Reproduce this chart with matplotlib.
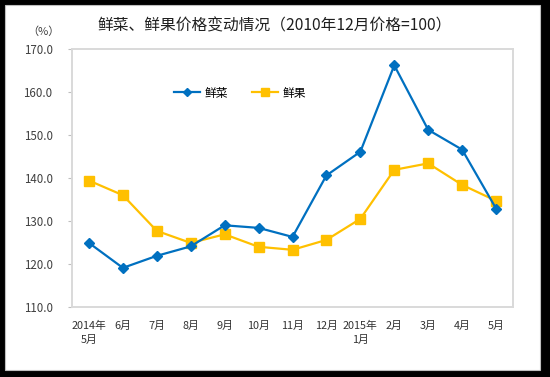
import matplotlib.pyplot as plt
from matplotlib.patches import Rectangle

plt.rcParams['font.family'] = ['Noto Sans CJK SC', 'DejaVu Sans']

months = ["2014年\n5月", "6月", "7月", "8月", "9月", "10月", "11月", "12月",
          "2015年\n1月", "2月", "3月", "4月", "5月"]
vegetables = [124.9, 119.1, 121.9, 124.1, 129.0, 128.4, 126.3, 140.6,
              146.1, 166.2, 151.2, 146.6, 132.9]
fruits = [139.4, 136.0, 127.7, 124.9, 126.9, 124.0, 123.3, 125.6,
          130.5, 141.9, 143.4, 138.4, 134.7]
yticks = [110, 120, 130, 140, 150, 160, 170]

fig = plt.figure(figsize=(5.5, 3.77), dpi=100)
fig.patch.set_facecolor("black")
# white chart area inside the black frame
fig.patches.append(Rectangle((5 / 550, 7 / 377), 535 / 550, 365 / 377,
                             transform=fig.transFigure, facecolor="white",
                             edgecolor="#BFBFBF", linewidth=0.8, zorder=-5))

ax = fig.add_axes([72 / 550, 1 - 307 / 377, 441 / 550, 258 / 377])
ax.set_facecolor("none")
x = list(range(len(months)))
ax.plot(x, vegetables, color="#0070C0", linewidth=1.6, marker="D",
        markersize=5, label="鲜菜", zorder=3)
ax.plot(x, fruits, color="#FFC000", linewidth=1.6, marker="s",
        markersize=6.5, label="鲜果", zorder=2)

ax.set_xlim(-0.5, len(months) - 0.5)
ax.set_ylim(110, 170)
ax.set_yticks(yticks)
ax.set_yticklabels([f"{v:.1f}" for v in yticks], fontsize=8.3, color="#404040")
ax.set_xticks(x)
ax.set_xticklabels(months, fontsize=7.8, color="#333333", linespacing=1.5)
ax.tick_params(axis="y", length=3, color="#BFBFBF", pad=11)
ax.tick_params(axis="x", length=0, pad=10)
for sp in ax.spines.values():
    sp.set_color("#D9D9D9")
    sp.set_linewidth(1.4)

fig.text(0.5, 1 - 26 / 377, "鲜菜、鲜果价格变动情况（2010年12月价格=100）",
         ha="center", va="center", fontsize=11.3, color="#1F1F1F",
         fontweight="medium")
fig.text(43 / 550, 1 - 32 / 377, "（%）", ha="center", va="center",
         fontsize=8, color="#404040")

leg = fig.legend(loc="center", bbox_to_anchor=(240 / 550, 1 - 93 / 377), ncol=2,
                 frameon=False, fontsize=8.5, handlelength=2.2, columnspacing=2.0,
                 handletextpad=0.4, markerscale=0.8)

fig.savefig("out.png", dpi=100, facecolor=fig.get_facecolor())
